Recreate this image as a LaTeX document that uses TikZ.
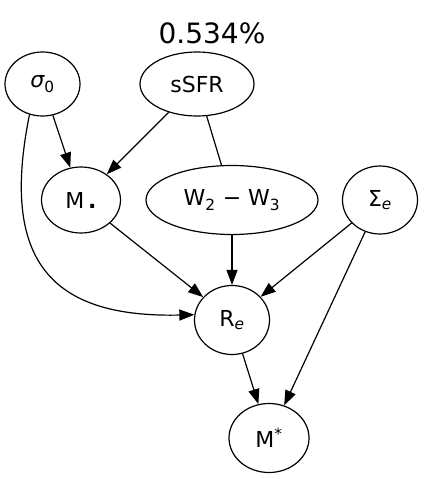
\documentclass[tikz,border=0pt]{standalone}
\usepackage{fontspec}
\setmainfont{DejaVu Sans}
\usetikzlibrary{arrows.meta,shapes.geometric}

\begin{document}
\begin{tikzpicture}[
					x = 1pt, y = -1pt,
					line width = 1.2pt,
					var/.style = {ellipse, draw, inner sep = 0pt, font = \fontsize{22}{26}\selectfont},
					edge/.style = {-{Triangle[length=15pt,width=11pt]}},
				]

					\useasboundingbox (0,0) rectangle (424,479);

					\node at (212,33) [font = \fontsize{28}{32}\selectfont] (title) {0.534\%};

					\node[var, minimum width = 75, minimum height = 64] (sig) at (42.5,84) {{\itshape σ}\textsubscript{0}};
					\node[var, minimum width = 114, minimum height = 64] (ssfr) at (197,84) {sSFR};
					\node[var, minimum width = 79, minimum height = 66] (mbh) at (81,200) {M\,{\bfseries .}};
					\node[var, minimum width = 172, minimum height = 69] (w23) at (232,200) {W\textsubscript{2} − W\textsubscript{3}};
					\node[var, minimum width = 75, minimum height = 68] (sige) at (380,200) {Σ\textsubscript{\itshape e}};
					\node[var, minimum width = 75, minimum height = 69] (re) at (232,320) {R\textsubscript{\itshape e}};
					\node[var, minimum width = 80, minimum height = 69] (mstar) at (269,438) {M\textsuperscript{*}};

					\draw[edge] (sig) -- (mbh);
					\draw[edge] (ssfr) -- (mbh);
					\draw (ssfr) -- (w23);
					\draw[edge] (sig.247) .. controls (0,260) and (50,318) .. (re.172);
					\draw[edge] (mbh) -- (re);
					\draw[edge] (w23) -- (re);
					\draw[edge] (sige) -- (re);
					\draw[edge] (sige) -- (mstar);
					\draw[edge] (re) -- (mstar);

				\end{tikzpicture}
\end{document}
